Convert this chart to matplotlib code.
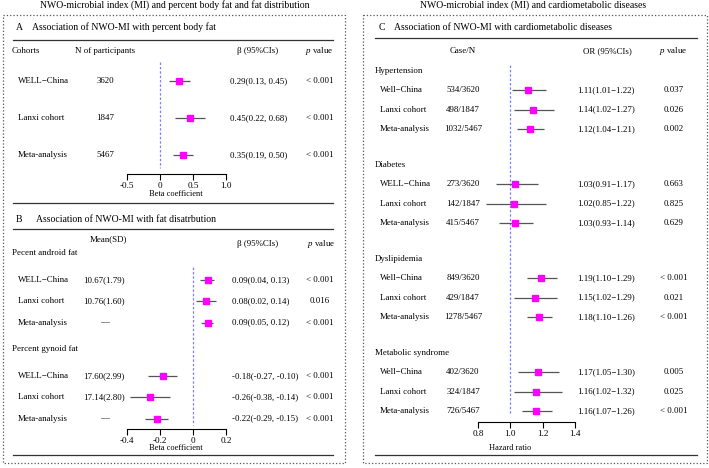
import matplotlib.pyplot as plt
from matplotlib.patches import Rectangle

plt.rcParams['font.family'] = ['Liberation Serif', 'DejaVu Serif']
plt.rcParams['mathtext.fontset'] = 'custom'
plt.rcParams['mathtext.rm'] = 'Liberation Serif'
plt.rcParams['mathtext.it'] = 'Liberation Serif:italic'

# ---- data ----
cohorts = ['WELL−China', 'Lanxi cohort', 'Meta-analysis']

# A: percent body fat
a_n = ['3620', '1847', '5467']
a_beta = [0.29, 0.45, 0.35]
a_lo = [0.13, 0.22, 0.19]
a_hi = [0.45, 0.68, 0.50]
a_p = ['< 0.001', '< 0.001', '< 0.001']
a_ticks = [-0.5, 0, 0.5, 1.0]
a_ticklabels = ['-0.5', '0', '0.5', '1.0']

# B: fat distribution
b_groups = ['Pecent android fat', 'Percent gynoid fat']
b_mean = [['10.67(1.79)', '10.76(1.60)', '—'],
          ['17.60(2.99)', '17.14(2.80)', '—']]
b_beta = [[0.09, 0.08, 0.09], [-0.18, -0.26, -0.22]]
b_lo = [[0.04, 0.02, 0.05], [-0.27, -0.38, -0.29]]
b_hi = [[0.13, 0.14, 0.12], [-0.10, -0.14, -0.15]]
b_p = [['< 0.001', '0.016', '< 0.001'], ['< 0.001', '< 0.001', '< 0.001']]
b_ticks = [-0.4, -0.2, 0, 0.2]
b_ticklabels = ['-0.4', '-0.2', '0', '0.2']

# C: cardiometabolic diseases
c_outcomes = ['Hypertension', 'Diabetes', 'Dyslipidemia', 'Metabolic syndrome']
c_labels = [['Well−China', 'Lanxi cohort', 'Meta-analysis'],
            ['WELL−China', 'Lanxi cohort', 'Meta-analysis'],
            ['Well−China', 'Lanxi cohort', 'Meta-analysis'],
            ['Well−China', 'Lanxi cohort', 'Meta-analysis']]
c_case = [['534/3620', '498/1847', '1032/5467'],
          ['273/3620', '142/1847', '415/5467'],
          ['849/3620', '429/1847', '1278/5467'],
          ['402/3620', '324/1847', '726/5467']]
c_or = [[1.11, 1.14, 1.12], [1.03, 1.02, 1.03], [1.19, 1.15, 1.18], [1.17, 1.16, 1.16]]
c_lo = [[1.01, 1.02, 1.04], [0.91, 0.85, 0.93], [1.10, 1.02, 1.10], [1.05, 1.02, 1.07]]
c_hi = [[1.22, 1.27, 1.21], [1.17, 1.22, 1.14], [1.29, 1.29, 1.26], [1.30, 1.32, 1.26]]
c_p = [['0.037', '0.026', '0.002'], ['0.663', '0.825', '0.629'],
       ['< 0.001', '0.021', '< 0.001'], ['0.005', '0.025', '< 0.001']]
c_ticks = [0.8, 1.0, 1.2, 1.4]
c_ticklabels = ['0.8', '1.0', '1.2', '1.4']

# ---- layout (pixels) ----
W, H = 709, 468
fig = plt.figure(figsize=(W / 100, H / 100), dpi=100)
bg = fig.add_axes([0, 0, 1, 1])
bg.set_xlim(0, W)
bg.set_ylim(H, 0)
bg.axis('off')

FS = 6.4
PV = r'$p$ value'
MAG = '#ff00ff'
CI_C = '#555555'
REF_C = '#8080ff'
REF_LS = (0, (2, 1.5))
LINE_C = '#333333'


def txt(x, y, s, ha='left', size=FS, **kw):
    bg.text(x, y, s, ha=ha, va='center', fontsize=size, **kw)


def hline(y, x0, x1):
    bg.plot([x0, x1], [y, y], color=LINE_C, lw=0.9)


def forest_axes(x0, x1, y0, y1, xlim, ticks, labels):
    ax = fig.add_axes([x0 / W, 1 - y1 / H, (x1 - x0) / W, (y1 - y0) / H])
    ax.set_xlim(xlim)
    ax.set_ylim(y1, y0)
    ax.patch.set_alpha(0)
    for s in ['top', 'right', 'left']:
        ax.spines[s].set_visible(False)
    ax.spines['bottom'].set_linewidth(0.8)
    ax.set_yticks([])
    ax.set_xticks(ticks)
    ax.set_xticklabels(labels)
    ax.tick_params(axis='x', length=4, width=0.8, pad=2, labelsize=6.6)
    return ax


def draw_rows(ax, ys, est, lo, hi):
    ax.hlines(ys, lo, hi, color=CI_C, lw=0.9, zorder=2)
    ax.plot(est, ys, 's', color=MAG, ms=4.2, mec=MAG, zorder=3, clip_on=False)


# boxes and titles
bg.add_patch(Rectangle((3, 15), 342, 448, fill=False, ls=':', lw=0.9, ec='#555555'))
bg.add_patch(Rectangle((363, 15), 344, 448, fill=False, ls=':', lw=0.9, ec='#555555'))
txt(175, 5, 'NWO-microbial index (MI) and percent body fat and fat distribution', ha='center', size=7)
txt(533, 5, 'NWO-microbial index (MI) and cardiometabolic diseases', ha='center', size=7)

# ---- panel A ----
txt(16, 27, 'A', size=7)
txt(32, 27, 'Association of NWO-MI with percent body fat', size=7)
hline(40, 13, 333)
txt(12, 51, 'Cohorts')
txt(75, 51, 'N of participants')
txt(237, 51, 'β (95%CIs)')
txt(305, 51, PV)

ya = [81, 118, 155]
for i, y in enumerate(ya):
    txt(18, y, cohorts[i])
    txt(105, y, a_n[i], ha='center')
    txt(230, y, f'{a_beta[i]:.2f}({a_lo[i]:.2f}, {a_hi[i]:.2f})')
    txt(320, y, a_p[i], ha='center')

axA = forest_axes(127, 226, 60, 174, (-0.5, 1.0), a_ticks, a_ticklabels)
axA.vlines(0, 62, 168, color=REF_C, lw=0.9, linestyles=REF_LS)
draw_rows(axA, ya, a_beta, a_lo, a_hi)
txt(176, 194, 'Beta coefficient', ha='center', size=6)
hline(203, 13, 333)

# ---- panel B ----
txt(16, 220, 'B', size=7)
txt(36, 220, 'Association of NWO-MI with fat disatrbution', size=7)
hline(229, 13, 333)
txt(108, 239, 'Mean(SD)', ha='center')
txt(237, 244, 'β (95%CIs)')
txt(307, 244, PV)

axB = forest_axes(127, 226, 265, 429, (-0.4, 0.2), b_ticks, b_ticklabels)
axB.vlines(0, 267, 425, color=REF_C, lw=0.9, linestyles=REF_LS)
group_top = [253, 349]
for g in range(2):
    txt(12, group_top[g], b_groups[g])
    ys = [group_top[g] + 27 + 21.3 * k for k in range(3)]
    for k, y in enumerate(ys):
        txt(18, y, cohorts[k])
        txt(104, y, b_mean[g][k], ha='center')
        txt(232, y, f'{b_beta[g][k]:.2f}({b_lo[g][k]:.2f}, {b_hi[g][k]:.2f})')
        txt(320, y, b_p[g][k], ha='center')
    draw_rows(axB, ys, b_beta[g], b_lo[g], b_hi[g])
txt(176, 448, 'Beta coefficient', ha='center', size=6)
hline(455, 13, 333)

# ---- panel C ----
txt(379, 27, 'C', size=7)
txt(394, 27, 'Association of NWO-MI with cardiometabolic diseases', size=7)
hline(38, 375, 697)
txt(463, 51, 'Case/N', ha='center')
txt(607, 51, 'OR (95%CIs)', ha='center')
txt(673, 51, PV, ha='center')

axC = forest_axes(478, 575, 62, 422, (0.8, 1.4), c_ticks, c_ticklabels)
axC.vlines(1.0, 65, 415, color=REF_C, lw=0.9, linestyles=REF_LS)
for g in range(4):
    top = 71 + 94 * g
    txt(375, top, c_outcomes[g])
    ys = [top + 19 + 19.5 * k for k in range(3)]
    for k, y in enumerate(ys):
        txt(380, y, c_labels[g][k])
        txt(463, y, c_case[g][k], ha='center')
        txt(606, y, f'{c_or[g][k]:.2f}({c_lo[g][k]:.2f}−{c_hi[g][k]:.2f})', ha='center')
        txt(674, y, c_p[g][k], ha='center')
    draw_rows(axC, ys, c_or[g], c_lo[g], c_hi[g])
txt(510, 448, 'Hazard ratio', ha='center', size=6)
hline(455, 375, 697)

fig.savefig('out.png', dpi=100)
